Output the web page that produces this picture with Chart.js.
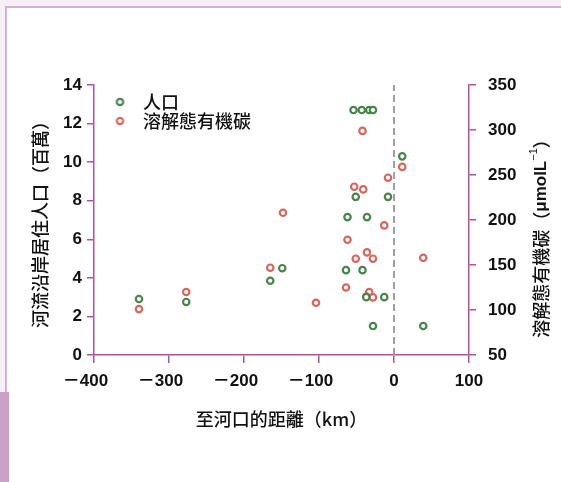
<!DOCTYPE html>
<html>
<head>
<meta charset="utf-8">
<script src="https://cdn.jsdelivr.net/npm/chart.js@4.4.0/dist/chart.umd.min.js"></script>
<style>
  html, body { margin: 0; padding: 0; background: #fff; }
  #wrap { position: relative; width: 561px; height: 482px; overflow: hidden; }
  .band-top { position: absolute; left: 0; top: 0; width: 561px; height: 6px; background: #f7f0f7; }
  .band-left { position: absolute; left: 0; top: 0; width: 5px; height: 482px; background: #f7f0f7; }
  .line-top { position: absolute; left: 5px; top: 6px; width: 556px; height: 2px; background: #d6b0d0; }
  .line-left { position: absolute; left: 5px; top: 6px; width: 2px; height: 476px; background: #d6b0d0; }
  .bar-left { position: absolute; left: 0; top: 392px; width: 9px; height: 90px; background: #cda0c8; }
  canvas { position: absolute; left: 0; top: 0; }
</style>
</head>
<body>
<div id="wrap">
  <div class="band-top"></div>
  <div class="band-left"></div>
  <div class="line-top"></div>
  <div class="line-left"></div>
  <div class="bar-left"></div>
  <canvas id="riverChart" width="561" height="482"></canvas>
</div>
<script>
// population along the river (millions) vs distance to the mouth (km)
const popDistance = [-340, -277, -165, -149, -64, -42, -37, -13, -28, 39, -62, -36, -51, -8, 11, -54, -43, -33, -28];
const popMillions = [2.9, 2.75, 3.85, 4.5, 4.4, 4.4, 3.0, 3.0, 1.5, 1.5, 7.15, 7.15, 8.2, 8.2, 10.3, 12.7, 12.7, 12.7, 12.7];

// dissolved organic carbon (umol/L) vs distance to the mouth (km)
const docDistance = [-340, -277, -165, -148, -104, -64, -62, -53, -51, -42, -41, -36, -33, -37, -28, -28, -13, -8, 11, 39];
const docValues = [101, 120, 147, 208, 108, 125, 178, 237, 157, 299, 234, 164, 120, 115, 114, 157, 194, 247, 259, 158];

// river mouth marker (x = 0)
const mouthX = [0, 0];
const mouthY = [0, 14];

const seriesNames = ['人口', '溶解態有機碳'];
const xTickValues = [-400, -300, -200, -100, 0, 100];
const xTickLabels = ['－400', '－300', '－200', '－100', '0', '100'];
const yTickValues = [0, 2, 4, 6, 8, 10, 12, 14];
const y2TickValues = [50, 100, 150, 200, 250, 300, 350];

const CJK = "'Noto Sans CJK TC', 'Noto Sans CJK SC', sans-serif";
const NUM = "'Liberation Sans', 'Noto Sans CJK TC', sans-serif";
const axisColor = '#b4519f';
const green = '#47854a';
const red = '#d9665b';

function toPoints(xs, ys) {
    return xs.map((x, i) => ({ x: x, y: ys[i] }));
}

// ring icon for the legend, shifted a bit to the right inside its box
function legendRing(color) {
    const c = document.createElement('canvas');
    c.width = 26;
    c.height = 12;
    const g = c.getContext('2d');
    g.beginPath();
    g.arc(18.5, 6, 3.2, 0, Math.PI * 2);
    g.fillStyle = '#fff';
    g.fill();
    g.lineWidth = 2.2;
    g.strokeStyle = color;
    g.stroke();
    return c;
}
const legendIcons = [legendRing(green), legendRing(red)];

// right axis title reads bottom-to-top, so draw it by hand
const rightTitle = {
    id: 'rightTitle',
    afterDraw(chart) {
        const ctx = chart.ctx;
        const parts = [
            { t: '溶解態有機碳（', f: '500 18px ' + CJK, dy: 0 },
            { t: 'μmolL', f: 'bold 17px ' + NUM, dy: 0 },
            { t: '−1', f: '11px ' + NUM, dy: -7 },
            { t: '）', f: '500 18px ' + CJK, dy: 0 }
        ];
        ctx.save();
        let total = 0;
        parts.forEach(p => { ctx.font = p.f; p.w = ctx.measureText(p.t).width; total += p.w; });
        ctx.translate(541, 234);
        ctx.rotate(-Math.PI / 2);
        ctx.fillStyle = '#111';
        ctx.textBaseline = 'middle';
        let x = -total / 2;
        parts.forEach(p => {
            ctx.font = p.f;
            ctx.fillText(p.t, x, p.dy);
            x += p.w;
        });
        ctx.restore();
    }
};

function axisGrid(len) {
    return { drawOnChartArea: false, drawTicks: true, tickLength: len, color: axisColor, lineWidth: 1.5 };
}

const ctx = document.getElementById('riverChart').getContext('2d');
const riverChart = new Chart(ctx, {
    type: 'scatter',
    data: {
        datasets: [{
            label: seriesNames[0],
            data: toPoints(popDistance, popMillions),
            yAxisID: 'y',
            borderColor: green,
            backgroundColor: '#fff',
            pointRadius: 3.2,
            borderWidth: 2.2
        }, {
            label: seriesNames[1],
            data: toPoints(docDistance, docValues),
            yAxisID: 'y2',
            borderColor: red,
            backgroundColor: '#fff',
            pointRadius: 3.2,
            borderWidth: 2.2
        }, {
            type: 'line',
            label: 'mouth',
            data: toPoints(mouthX, mouthY),
            yAxisID: 'y',
            borderColor: '#a0a0a0',
            borderWidth: 2,
            borderDash: [7, 4],
            pointRadius: 0,
            showLine: true
        }]
    },
    options: {
        responsive: false,
        animation: false,
        layout: { padding: { top: 85, left: 0, right: 0, bottom: 0 } },
        scales: {
            x: {
                type: 'linear',
                min: -400,
                max: 100,
                afterFit: s => { s.height = 127; },
                afterBuildTicks: s => { s.ticks = xTickValues.map(v => ({ value: v })); },
                grid: axisGrid(8),
                border: { color: axisColor, width: 1.5 },
                ticks: {
                    color: '#111',
                    padding: 8,
                    font: { family: NUM, size: 17, weight: 'bold' },
                    callback: v => {
                        const i = xTickValues.indexOf(v);
                        return v < 0 ? xTickLabels[i] + '\u3000' : xTickLabels[i];
                    }
                },
                title: {
                    display: true,
                    text: '至河口的距離（km）',
                    color: '#111',
                    font: { family: CJK, size: 18, weight: 500 },
                    padding: { bottom: 52 }
                }
            },
            y: {
                position: 'left',
                min: 0,
                max: 14,
                afterFit: s => { s.width = 94; },
                afterBuildTicks: s => { s.ticks = yTickValues.map(v => ({ value: v })); },
                grid: axisGrid(7),
                border: { color: axisColor, width: 1.5 },
                ticks: {
                    color: '#111',
                    padding: 5,
                    font: { family: NUM, size: 17, weight: 'bold' }
                },
                title: {
                    display: true,
                    text: '河流沿岸居住人口（百萬）',
                    color: '#111',
                    font: { family: CJK, size: 18, weight: 500 },
                    padding: { top: 29 }
                }
            },
            y2: {
                position: 'right',
                min: 50,
                max: 350,
                afterFit: s => { s.width = 92; },
                afterBuildTicks: s => { s.ticks = y2TickValues.map(v => ({ value: v })); },
                grid: axisGrid(7),
                border: { color: axisColor, width: 1.5 },
                ticks: {
                    color: '#111',
                    padding: 12,
                    font: { family: NUM, size: 17, weight: 'bold' }
                }
            }
        },
        plugins: {
            tooltip: { enabled: false },
            legend: {
                position: 'chartArea',
                align: 'start',
                // the legend box starts at the canvas top, so push the items down into the plot
                title: { display: true, text: ' ', font: { size: 1 }, padding: { top: 90.8, bottom: 0 } },
                labels: {
                    usePointStyle: true,
                    pointStyleWidth: 39,
                    padding: 1,
                    color: '#111',
                    font: { family: CJK, size: 18, weight: 500 },
                    generateLabels: chart => Chart.defaults.plugins.legend.labels.generateLabels(chart)
                        .filter(item => item.datasetIndex < 2)
                        .map(item => Object.assign(item, { pointStyle: legendIcons[item.datasetIndex] }))
                }
            }
        }
    },
    plugins: [rightTitle]
});
</script>
</body>
</html>
